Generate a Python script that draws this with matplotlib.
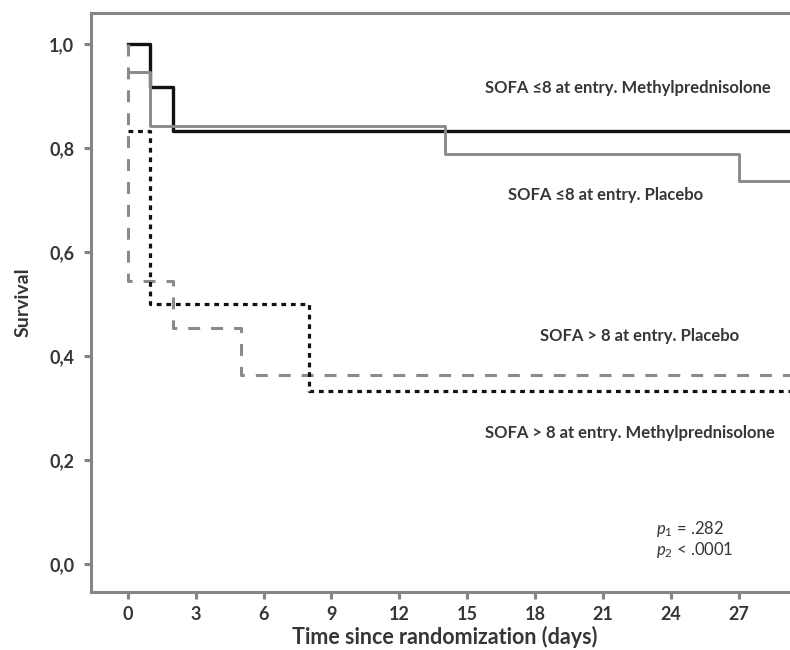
import numpy as np
import matplotlib.pyplot as plt

# Kaplan-Meier curves (time in days, survival)
t_low_mp = [0, 1, 2, 30]
s_low_mp = [1.0, 0.917, 0.833, 0.833]

t_low_pl = [0, 1, 14, 27, 30]
s_low_pl = [0.947, 0.842, 0.789, 0.737, 0.737]

t_high_pl = [0, 0, 2, 5, 30]
s_high_pl = [1.0, 0.545, 0.455, 0.364, 0.364]

t_high_mp = [0, 1, 8, 30]
s_high_mp = [0.833, 0.5, 0.333, 0.333]

x_ticks = [0, 3, 6, 9, 12, 15, 18, 21, 24, 27]
y_ticks = [0.0, 0.2, 0.4, 0.6, 0.8, 1.0]
y_ticklabels = ['0,0', '0,2', '0,4', '0,6', '0,8', '1,0']

plt.rcParams['font.family'] = ['Lato', 'DejaVu Sans']
plt.rcParams['mathtext.fontset'] = 'custom'
plt.rcParams['mathtext.it'] = 'Lato:italic'
plt.rcParams['mathtext.rm'] = 'Lato'
txt = '#363636'
spine = '#858585'

fig = plt.figure(figsize=(7.9, 6.5), dpi=100)
ax = fig.add_axes([91 / 790, 1 - 592 / 650, 1 - 91 / 790 + 0.01, (592 - 13) / 650])

ax.plot(t_low_mp, s_low_mp, drawstyle='steps-post', color='#111111', lw=2.4)
ax.plot(t_low_pl, s_low_pl, drawstyle='steps-post', color='#8a8a8a', lw=2.1)
ax.plot(t_high_pl, s_high_pl, drawstyle='steps-post', color='#8a8a8a', lw=2.2,
        dashes=(3.9, 3.6))
ax.plot(t_high_mp, s_high_mp, drawstyle='steps-post', color='#111111', lw=2.3,
        dashes=(1.5, 1.5))

ax.set_xlim(-1.62, 29.25 + 0.01 * 790 / 22.65)
ax.set_ylim(-0.053, 1.06)
ax.set_xticks(x_ticks)
ax.set_yticks(y_ticks)
ax.set_yticklabels(y_ticklabels)

for s in ['left', 'bottom', 'top']:
    ax.spines[s].set_color(spine)
    ax.spines[s].set_linewidth(2.2)
ax.spines['right'].set_visible(False)
ax.tick_params(length=5, width=2.2, color=spine, labelsize=13, labelcolor=txt)
ax.tick_params(axis='y', pad=7)
ax.tick_params(axis='x', pad=5)
for lab in ax.get_xticklabels() + ax.get_yticklabels():
    lab.set_fontweight('bold')

ax.set_xlabel('Time since randomization (days)', fontsize=15.5, fontweight='bold',
              color=txt, labelpad=2)
ax.set_ylabel('Survival', fontsize=14, fontweight='bold', color=txt, labelpad=13)

lab_kw = dict(fontsize=12, fontweight='bold', color=txt, ha='center', va='center')
ax.text(22.1, 0.916, 'SOFA ≤8 at entry. Methylprednisolone', **lab_kw)
ax.text(21.1, 0.710, 'SOFA ≤8 at entry. Placebo', **lab_kw)
ax.text(22.6, 0.439, 'SOFA > 8 at entry. Placebo', **lab_kw)
ax.text(22.2, 0.253, 'SOFA > 8 at entry. Methylprednisolone', **lab_kw)

ax.text(23.35, 0.068, r'$p_1$ = .282', fontsize=12, color=txt, va='center')
ax.text(23.35, 0.027, r'$p_2$ < .0001', fontsize=12, color=txt, va='center')

fig.savefig('out.png', dpi=100)
